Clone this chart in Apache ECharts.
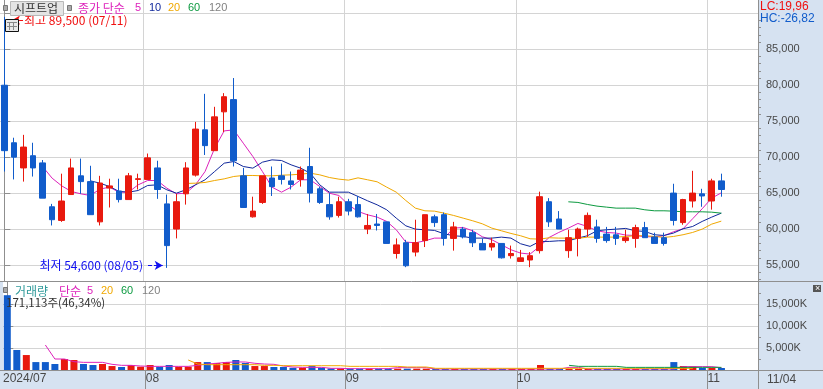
<!DOCTYPE html>
<html>
<head>
<meta charset="utf-8">
<style>
html,body{margin:0;padding:0;background:#d6e2f1;}
#main{width:823px;height:389px;}
</style>
<script src="https://cdn.jsdelivr.net/npm/echarts@6/dist/echarts.min.js"></script>
</head>
<body>
<div id="main"></div>
<script>
// 일봉 (index 0 = 07/11)
var opens = [80000,72000,68500,70200,69200,63100,61200,64800,67400,66600,61000,65700,65300,64100,66900,66900,68500,63500,60000,64900,67500,73800,70900,76300,78000,67400,61700,63700,67100,67400,66700,66900,68700,65600,63400,61900,63800,63400,60000,60700,61000,56600,58100,56800,58400,61700,62000,58700,60000,59500,58000,57500,58000,56300,55500,55700,57000,63800,61400,57000,58700,60000,60300,59300,59200,58400,58700,60200,58900,58800,65000,60900,63900,64900,63900,66700];
var closes = [70900,70000,71400,68500,64300,61300,63900,68500,66600,62000,66400,66000,64100,67400,67000,69900,65500,57700,63800,68500,73900,71600,75600,78400,69500,63000,62500,67400,65900,66900,66200,68200,65000,63700,61700,63800,62500,61700,60500,60500,58000,57800,54900,58100,62000,60900,58700,60300,58900,58100,57100,58000,56000,56600,56000,56300,64500,61000,60000,58800,60000,61900,58700,58400,58700,58800,60200,58800,58000,58000,61200,64100,65000,64600,66700,65500];
var lows = [68000,66900,66600,67300,64300,60500,61000,64800,64900,62000,60500,63000,63700,64100,65500,66900,64200,54600,58700,63400,67300,70300,70900,73500,68700,63000,61600,63500,64600,66200,65500,65900,63700,63500,61300,61600,61900,61600,59300,59800,58000,55900,54700,56200,57500,60300,57700,57000,58700,57500,57100,57000,55900,55900,55500,54700,56600,60300,60000,56000,56200,58900,58100,58100,57800,58100,57400,58800,58000,57700,60500,60600,63000,63100,62700,64500];
var highs = [89500,72700,73100,72000,69600,63500,67700,69800,69800,68800,67400,67000,67000,67800,67700,70500,69500,64800,64900,69300,74900,78800,77000,78900,81000,68500,64500,67400,68700,69100,68000,68700,71300,65900,65000,64500,64200,64600,62100,62100,61000,58700,58500,61300,62000,62000,62300,61000,60300,59900,58700,58800,58000,57700,57100,56800,65200,64300,62500,59900,60200,62300,61300,60300,60300,59900,60600,61000,59500,59500,66300,64200,68100,65600,67000,67700];
var volumes = [17000,4550,3400,1800,1800,1360,2500,2270,1360,1140,1360,900,680,1140,750,1140,750,1140,750,750,1800,1800,1600,1800,2270,1600,900,900,680,680,500,500,900,500,350,350,300,300,300,300,300,300,300,300,300,230,230,230,230,230,230,230,230,230,230,230,1140,250,250,250,250,250,250,250,250,250,250,250,250,250,1800,900,800,450,450,450];

// 이동평균, 각 배열은 maStart / volStart 번째 봉부터 시작
var ma5 = [68700,67080,66010,65230,64900,64670,65550,65830,65130,65130,66150,66750,66750,65690,64900,64990,66150,68000,71240,73650,73790,71940,70090,68000,65830,65130,65830,66850,66850,65920,64990,64670,63370,62450,61980,61660,61060,59900,58190,58090,58370,58740,58740,60130,60220,59760,58930,58510,57820,57120,56660,56520,57590,58840,59530,60130,60780,60360,59760,59530,59440,59160,59110,58930,58930,59070,59620,60040,61430,62820,64300,65040];
var ma10 = [66710,66380,65920,65230,65130,65360,66060,66150,65460,64990,65460,66150,66850,68000,69160,69390,68700,68470,69300,69620,69530,68930,68470,67770,66150,65130,65130,65130,64530,63930,63370,62680,61520,60450,59990,59900,59810,59340,59070,58970,58740,58740,58740,58880,58740,57960,57590,58280,58280,58370,58370,58740,59070,59760,59900,59990,60090,59760,59670,59210,59110,59440,60040,60360,61060,61660,62210];
var ma20 = [66340,66380,66480,66750,66980,67310,67450,67450,67400,67400,67490,67540,67630,67770,67540,67170,66940,66800,67120,66850,66570,65830,65130,63970,62910,62540,62490,62210,61890,61520,61150,60730,60130,59760,59390,59070,58650,58600,58790,58740,58740,58700,58880,58880,58880,58880,58970,59070,59070,58970,58840,58970,59210,59530,59990,60690,61100];
var ma60 = [63790,63700,63420,63190,63050,62910,62910,62910,62680,62540,62540,62490,62400,62400,62400,62350,62210];
var maStart = {ma5: 4, ma10: 9, ma20: 19, ma60: 59};

var vol5 = [5680,2500,2500,1890,1740,1740,1740,1290,1060,1060,910,830,830,830,830,830,1060,1360,1520,1740,1820,1820,1520,1360,1290,910,680,600,600,600,380,380,300,300,300,300,300,530,530,530,530,230,230,230,230,230,230,230,230,230,230,230,230,230,230,600,600,230,230,230,230,230,230,230,230,230,230,760,760,760,760,530];
var vol20 = [2270,1360,1210,1210,1210,1210,1210,1210,1060,1060,980,980,980,980,980,980,980,830,830,830,830,830,830,680,680,680,380,380,380,380,380,380,380,380,380,380,380,380,380,380,380,380,380,380,380,380,380,380,380,380,380,380,380,380];
var vol60 = [1060,830,830,830,830,830,600,600,600,600,600,600,600,600,600,600,600];
var volStart = {vol5: 4, vol20: 19, vol60: 59};

// 축 눈금
var monthStarts = [15,36,54,74];
var monthLabels = ['2024/07','08','09','10','11'];
var priceTicks = [55000,60000,65000,70000,75000,80000,85000,90000];
var priceLabels = [55000,60000,65000,70000,75000,80000,85000];
var priceMinor = [53000,54000,56000,57000,58000,59000,61000,62000,63000,64000,66000,67000,68000,69000,71000,72000,73000,74000,76000,77000,78000,79000,81000,82000,83000,84000,86000,87000,88000,89000];
var volTicks = [5000,10000,15000];
var volMinor = [0,2500,7500,12500,17500];

var RED = '#e8190e', BLUE = '#115ccb', MAG = '#dd22bb', NAVY = '#10289c', ORG = '#f0a800', GRN = '#0c9a40', GRAY = '#808080';
var GRID = '#d4d4d4', AXIS = '#8f8f8f', TXT = '#484848';
var NUM = '"Liberation Sans",sans-serif';
var KO = '"Noto Sans CJK KR",sans-serif';

var xMin = -0.45, xMax = 78.84;
var boundaries = monthStarts.map(function (d) { return d - 0.46; });

function fmt(v) { return String(v).replace(/\B(?=(\d{3})+$)/g, ','); }

function lineSeries(name, values, start, color, xi, yi, z) {
    return {
        type: 'line', name: name,
        xAxisIndex: xi, yAxisIndex: yi,
        data: values.map(function (v, i) { return [start + i, v]; }),
        showSymbol: false, symbol: 'none',
        lineStyle: {color: color, width: 1},
        itemStyle: {color: color},
        animation: false, silent: true, z: z
    };
}

var candles = opens.map(function (o, i) { return [i, o, closes[i], lows[i], highs[i]]; });
var volBars = volumes.map(function (v, i) {
    return {value: [i, v], itemStyle: {color: closes[i] >= opens[i] ? RED : BLUE}};
});

function label(text, x, y, color, font) {
    return {type: 'text', x: x, y: y, z: 50, silent: true,
        style: {text: text, fill: color, font: font || ('12px ' + KO), textVerticalAlign: 'middle'}};
}
function hline(x1, y, x2, c, z) {
    return {type: 'line', z: z || 40, silent: true, shape: {x1: x1, y1: y, x2: x2, y2: y}, style: {stroke: c, lineWidth: 1}};
}
function vline(x, y1, y2, c, z) {
    return {type: 'line', z: z || 40, silent: true, shape: {x1: x, y1: y1, x2: x, y2: y2}, style: {stroke: c, lineWidth: 1}};
}
function square(x, y) {
    return {type: 'rect', z: 50, silent: true, shape: {x: x + 0.5, y: y + 0.5, width: 4, height: 5}, style: {fill: '#aaaaaa', stroke: '#777777'}};
}

var chrome = [
    hline(0, 281.5, 823, AXIS),
    hline(0, 370.5, 823, AXIS),
    vline(758.5, 0, 389, AXIS),
    square(3, 5),
    {type: 'rect', z: 50, silent: true, shape: {x: 10.5, y: 1.5, width: 53, height: 14}, style: {fill: '#e4e4e4', stroke: '#b8b8b8'}},
    label('시프트업', 14, 8.5, '#333333'),
    square(67, 5),
    label('종가 단순', 78, 8, MAG),
    label('5', 135, 8, MAG, '11px ' + NUM),
    label('10', 149, 8, NAVY, '11px ' + NUM),
    label('20', 168, 8, ORG, '11px ' + NUM),
    label('60', 188, 8, GRN, '11px ' + NUM),
    label('120', 209, 8, GRAY, '11px ' + NUM),
    label('LC:19,96', 760, 7, '#f01010', '12px ' + NUM),
    label('HC:-26,82', 760, 19, BLUE, '12px ' + NUM),
    {type: 'rect', z: 55, silent: true, shape: {x: 5.5, y: 19.5, width: 13, height: 12}, style: {fill: '#e8e8e8', stroke: '#111111', lineWidth: 1}},
    hline(7, 22.5, 17, '#888888', 56), hline(7, 26.5, 17, '#888888', 56),
    vline(9.5, 22, 30, '#888888', 56), vline(13.5, 22, 30, '#888888', 56),
    square(3, 287),
    label('거래량', 15, 291, '#2f9a9a'),
    label('단순', 59, 291, MAG),
    label('5', 87, 291, MAG, '11px ' + NUM),
    label('20', 101, 291, ORG, '11px ' + NUM),
    label('60', 121, 291, GRN, '11px ' + NUM),
    label('120', 142, 291, GRAY, '11px ' + NUM),
    label('171,113주(46,34%)', 6, 303, '#333333', '11.5px ' + KO),
    {type: 'rect', z: 50, silent: true, shape: {x: 813, y: 285, width: 8, height: 7}, style: {fill: '#555555'}},
    label('×', 815, 288.5, '#ffffff', '9px ' + NUM),
    label('11/04', 767, 379.5, TXT, '12px ' + NUM)
];

var chart = echarts.init(document.getElementById('main'), null, {renderer: 'canvas'});
var option = {
    animation: false,
    backgroundColor: 'transparent',
    graphic: chrome,
    grid: [
        {left: 0, top: 0, width: 758, height: 281, show: true, backgroundColor: '#ffffff', borderWidth: 0},
        {left: 0, top: 282, width: 758, height: 88, show: true, backgroundColor: '#ffffff', borderWidth: 0}
    ],
    xAxis: [
        {
            type: 'value', gridIndex: 0, min: xMin, max: xMax,
            axisLine: {show: false},
            axisTick: {show: false, customValues: boundaries},
            axisLabel: {show: false},
            splitLine: {show: true, lineStyle: {color: GRID, width: 1}}
        },
        {
            type: 'value', gridIndex: 1, min: xMin, max: xMax,
            axisLine: {show: false},
            axisTick: {show: true, customValues: boundaries, length: 19, lineStyle: {color: AXIS}},
            axisLabel: {
                show: true, margin: 3, align: 'left', color: TXT,
                fontFamily: NUM, fontSize: 12,
                customValues: [xMin].concat(boundaries),
                showMinLabel: true,
                formatter: function (v) {
                    if (v === xMin) return monthLabels[0];
                    return monthLabels[boundaries.indexOf(v) + 1];
                }
            },
            splitLine: {show: true, lineStyle: {color: GRID, width: 1}}
        }
    ],
    yAxis: [
        {
            type: 'value', gridIndex: 0, position: 'right', min: 52778, max: 91850,
            axisLine: {show: true, lineStyle: {color: AXIS}},
            axisTick: {show: true, length: 6, customValues: priceTicks, lineStyle: {color: AXIS}},
            axisLabel: {margin: 8, color: TXT, fontFamily: NUM, fontSize: 11, customValues: priceLabels, formatter: fmt},
            splitLine: {show: true, lineStyle: {color: GRID, width: 1}}
        },
        {
            type: 'value', gridIndex: 0, position: 'right', min: 52778, max: 91850,
            axisLine: {show: true, lineStyle: {color: AXIS}},
            axisTick: {show: true, length: 3, customValues: priceMinor, lineStyle: {color: AXIS}},
            axisLabel: {show: false},
            splitLine: {show: false}
        },
        {
            type: 'value', gridIndex: 1, position: 'right', min: 0, max: 20000,
            axisLine: {show: true, lineStyle: {color: AXIS}},
            axisTick: {show: true, length: 6, customValues: volTicks, lineStyle: {color: AXIS}},
            axisLabel: {margin: 8, color: TXT, fontFamily: NUM, fontSize: 11, customValues: volTicks,
                formatter: function (v) { return fmt(v) + 'K'; }},
            splitLine: {show: true, lineStyle: {color: GRID, width: 1}}
        },
        {
            type: 'value', gridIndex: 1, position: 'right', min: 0, max: 20000,
            axisLine: {show: true, lineStyle: {color: AXIS}},
            axisTick: {show: true, length: 3, customValues: volMinor, lineStyle: {color: AXIS}},
            axisLabel: {show: false},
            splitLine: {show: false}
        }
    ],
    series: [
        lineSeries('MA5', ma5, maStart.ma5, MAG, 0, 0, 3),
        lineSeries('MA10', ma10, maStart.ma10, NAVY, 0, 0, 3),
        lineSeries('MA20', ma20, maStart.ma20, ORG, 0, 0, 3),
        lineSeries('MA60', ma60, maStart.ma60, GRN, 0, 0, 3),
        {
            type: 'candlestick', name: '종가',
            xAxisIndex: 0, yAxisIndex: 0,
            data: candles, barWidth: 6, z: 5,
            itemStyle: {color: RED, color0: BLUE, borderColor: RED, borderColor0: BLUE, borderWidth: 1},
            markLine: {
                silent: true, animation: false, symbol: ['none', 'arrow'], symbolSize: [7, 8],
                data: [
                    [
                        {coord: [15.03, 54950], lineStyle: {color: '#1010f0', width: 1},
                            label: {show: true, position: 'start', distance: 5, formatter: '최저 54,600 (08/05)', color: '#1010f0', fontFamily: KO, fontSize: 12}},
                        {coord: [16.57, 54950]}
                    ],
                    [
                        {coord: [1.96, 89050], lineStyle: {color: '#f01010', width: 1},
                            label: {show: true, position: 'start', distance: 1, formatter: '최고 89,500 (07/11)', color: '#f01010', fontFamily: KO, fontSize: 12}},
                        {coord: [0.8, 89050]}
                    ]
                ]
            }
        },
        {
            type: 'bar', name: '거래량',
            xAxisIndex: 1, yAxisIndex: 2,
            data: volBars, barWidth: 7, z: 2
        },
        lineSeries('V5', vol5, volStart.vol5, MAG, 1, 2, 4),
        lineSeries('V20', vol20, volStart.vol20, ORG, 1, 2, 4),
        lineSeries('V60', vol60, volStart.vol60, GRN, 1, 2, 4)
    ]
};
chart.setOption(option);
</script>
</body>
</html>
